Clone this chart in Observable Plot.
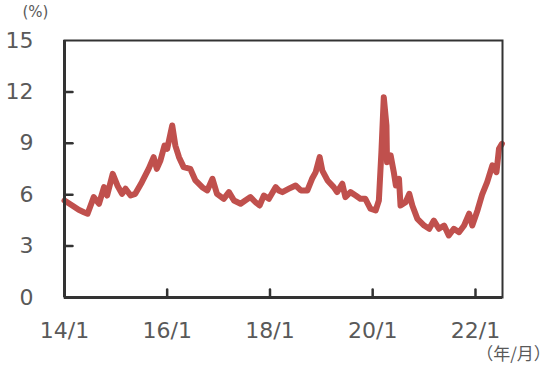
<!DOCTYPE html>
<html>
<head>
<meta charset="utf-8">
<script src="https://cdn.jsdelivr.net/npm/d3@7"></script>
<script src="https://cdn.jsdelivr.net/npm/@observablehq/plot@0.6"></script>
<style>
  html, body { margin: 0; padding: 0; background: #fff; }
  #chart svg { display: block; }
</style>
</head>
<body>
<div id="chart"></div>
<script>
const dates = [
  "2014-01-01","2014-02-25","2014-04-12","2014-05-19","2014-06-14","2014-07-28","2014-09-03","2014-10-09","2014-10-31","2014-12-10",
  "2015-01-12","2015-02-14","2015-03-11","2015-04-16","2015-05-19","2015-07-05","2015-08-22","2015-09-27","2015-10-19","2015-11-14","2015-12-13",
  "2016-01-01","2016-02-06","2016-02-28","2016-03-25","2016-04-27","2016-06-13","2016-07-20","2016-09-06","2016-10-12","2016-11-18","2016-12-20",
  "2017-02-06","2017-03-15","2017-04-20","2017-06-06","2017-07-09","2017-08-15","2017-09-20","2017-10-19","2017-11-18","2017-12-24",
  "2018-02-10","2018-03-04","2018-03-30","2018-05-16","2018-07-02","2018-08-08","2018-09-24","2018-10-27","2018-11-22","2018-12-20",
  "2019-01-08","2019-02-14","2019-03-30","2019-04-23","2019-05-30","2019-06-21","2019-07-27","2019-09-02","2019-10-05","2019-11-10","2019-12-16",
  "2020-01-22","2020-02-14","2020-03-03","2020-03-20","2020-04-08","2020-04-12","2020-05-08","2020-05-30","2020-06-14","2020-07-06","2020-07-17","2020-08-22","2020-09-17","2020-10-09","2020-11-14",
  "2021-01-01","2021-02-06","2021-03-11","2021-04-16","2021-05-23","2021-06-25","2021-07-31","2021-09-06","2021-10-12","2021-11-17","2021-12-09",
  "2022-01-15","2022-02-17","2022-03-25","2022-05-01","2022-05-30","2022-06-17","2022-07-08"
];
const values = [
  5.66,5.37,5.12,4.98,4.89,5.86,5.47,6.44,5.95,7.22,
  6.54,6.05,6.35,5.95,6.05,6.73,7.51,8.19,7.51,8.0,8.87,
  8.68,10.04,8.87,8.19,7.61,7.51,6.83,6.44,6.25,6.93,6.05,
  5.76,6.15,5.66,5.47,5.66,5.86,5.56,5.37,5.95,5.76,
  6.44,6.25,6.15,6.35,6.54,6.25,6.25,6.93,7.32,8.19,
  7.41,6.83,6.44,6.15,6.64,5.86,6.15,5.95,5.76,5.76,5.18,
  5.08,5.66,8.48,11.69,10.04,7.9,8.29,7.32,6.54,6.93,5.37,5.56,6.05,5.37,4.59,
  4.2,4.01,4.49,4.01,4.2,3.62,4.01,3.81,4.2,4.89,4.2,
  5.08,6.0,6.73,7.71,7.32,8.68,8.97
];
const xTickDates = ["2014-01-01","2016-01-01","2018-01-01","2020-01-01","2022-01-01"];
const yTicks = [0, 3, 6, 9, 12, 15];
const xDomain = ["2014-01-01", "2022-07-12"];
const unitLabel = "(%)";
const xUnitLabel = "（年/月）";

const data = dates.map((d, i) => ({date: new Date(d), value: values[i]}));
const xt = xTickDates.map(d => new Date(d));
const x0 = new Date(xDomain[0]);
const yMin = yTicks[0], yMax = yTicks[yTicks.length - 1];

const textColor = "#595959";
const axisColor = "#333333";
const lineColor = "#C0504D";

const tickShape = {
  draw(context, l) {
    context.moveTo(0, 0);
    context.lineTo(0, -l);
  }
};

const chart = Plot.plot({
  width: 550,
  height: 369,
  marginLeft: 64,
  marginRight: 48,
  marginTop: 40,
  marginBottom: 72,
  style: {fontFamily: "DejaVu Sans, sans-serif", background: "#fff"},
  x: {type: "utc", domain: xDomain.map(d => new Date(d))},
  y: {domain: [yMin, yMax]},
  marks: [
    Plot.line(data, {x: "date", y: "value", stroke: lineColor, strokeWidth: 6, strokeLinejoin: "round", strokeLinecap: "round"}),
    Plot.frame({stroke: axisColor, strokeWidth: 2}),
    Plot.ruleY([yMin], {stroke: axisColor, strokeWidth: 3}),
    Plot.ruleX([x0], {stroke: axisColor, strokeWidth: 3}),
    Plot.vector(yTicks.filter(v => v > yMin && v < yMax), {x: () => x0, y: d => d, length: 8, rotate: 90, anchor: "start", shape: tickShape, stroke: axisColor, strokeWidth: 2.5}),
    Plot.vector(xt.slice(1), {x: d => d, y: () => yMin, length: 8, rotate: 0, anchor: "start", shape: tickShape, stroke: axisColor, strokeWidth: 2.5}),
    Plot.axisY({ticks: yTicks, tickSize: 0, tickPadding: 31, fontSize: 22, color: textColor, label: null}),
    Plot.axisX({ticks: xt, tickSize: 0, tickPadding: 25, fontSize: 22, color: textColor, tickFormat: d3.utcFormat("%y/%-m"), label: null}),
    Plot.text([unitLabel], {frameAnchor: "top-left", dx: -29, dy: -28, text: d => d, fontSize: 15, fill: textColor, textAnchor: "middle", lineAnchor: "middle", fontFamily: "DejaVu Sans, sans-serif"}),
    Plot.text([xUnitLabel], {frameAnchor: "bottom-right", dx: 11, dy: 57, text: d => d, fontSize: 17, fill: textColor, textAnchor: "middle", lineAnchor: "middle", fontFamily: "Noto Sans CJK JP, sans-serif"})
  ]
});
document.getElementById("chart").appendChild(chart);
</script>
</body>
</html>
